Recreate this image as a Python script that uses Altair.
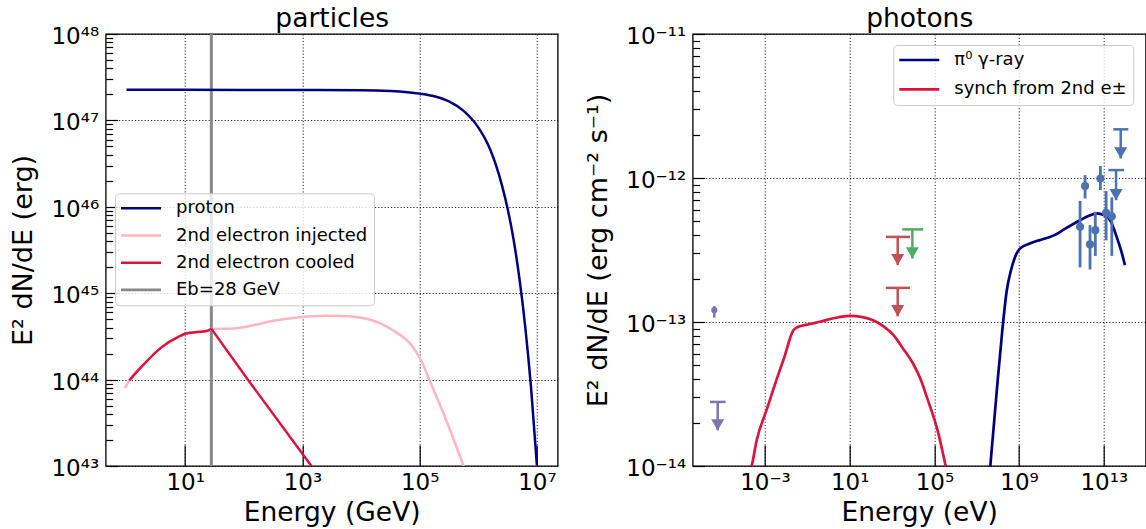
import altair as alt
import pandas as pd

FONT = "DejaVu Sans"

# ---------------- particles panel (log10 values) ----------------
proton_logE = [0.0, 1.0, 2.0, 3.0, 4.0, 4.5, 5.0, 5.25, 5.5, 5.75, 6.0, 6.2, 6.4, 6.5, 6.6, 6.7, 6.8, 6.9, 7.0]
proton_logF = [47.354, 47.354, 47.353, 47.352, 47.35, 47.34, 47.31, 47.28, 47.22, 47.11, 46.92, 46.67,
               46.26, 45.98, 45.63, 45.18, 44.62, 43.91, 43.01]

inj_logE = [-0.026, 0.048, 0.285, 0.59, 0.9, 1.0, 1.2, 1.385, 1.446, 1.8, 2.1, 2.5, 2.8, 3.1, 3.4, 3.7,
            4.0, 4.3, 4.56, 4.87, 5.02, 5.17, 5.47, 5.75, 5.8]
inj_logF = [43.90, 43.99, 44.17, 44.37, 44.50, 44.53, 44.55, 44.565, 44.585, 44.59, 44.62, 44.68, 44.71,
            44.73, 44.74, 44.735, 44.715, 44.66, 44.565, 44.39, 44.23, 43.99, 43.50, 43.00, 42.91]

# cooled spectrum: rising part up to the break, then the steep cooled part
cool_rise_logE = [0.048, 0.285, 0.59, 0.9, 1.0, 1.2, 1.385, 1.446]
cool_rise_logF = [43.99, 44.17, 44.37, 44.50, 44.53, 44.55, 44.565, 44.59]
cool_fall_logE = [1.446, 2.08, 3.154, 3.2]
cool_fall_logF = [44.59, 43.99, 43.00, 42.957]

Eb_GeV = [28]

left_series = ["proton", "2nd electron injected", "2nd electron cooled", "Eb=28 GeV"]
left_colors = ["#000080", "#ffb6c1", "#dc143c", "#888888"]

left_xticks = [1e1, 1e3, 1e5, 1e7]
left_xlabels = ["10¹", "10³", "10⁵", "10⁷"]
left_yticks = [1e43, 1e44, 1e45, 1e46, 1e47, 1e48]
left_ylabels = ["10⁴³", "10⁴⁴", "10⁴⁵", "10⁴⁶", "10⁴⁷", "10⁴⁸"]
left_yminor = [m * 10.0 ** e for e in range(43, 48) for m in range(2, 10)]

# ---------------- photons panel ----------------
pi0_logE = [7.6, 7.644, 7.8, 7.99, 8.2, 8.42, 8.6, 8.81, 9.05, 9.5, 10.0, 10.46, 10.7, 11.2, 11.88,
            12.3, 12.67, 13.0, 13.3, 13.61, 13.85, 14.0]
pi0_logF = [-14.09, -14.0, -13.73, -13.404, -13.07, -12.78, -12.65, -12.548, -12.489, -12.455, -12.43,
            -12.409, -12.395, -12.35, -12.293, -12.262, -12.246, -12.258, -12.293, -12.409, -12.52, -12.605]

syn_logE = [-3.7, -3.63, -3.39, -2.9, -2.5, -2.1, -1.66, -1.45, -1.0, -0.4, 0.3, 1.0, 1.6, 2.1, 2.6,
            3.06, 3.5, 4.0, 4.354, 4.64, 5.19, 5.535, 5.6]
syn_logF = [-14.04, -14.0, -13.82, -13.6, -13.42, -13.25, -13.057, -13.035, -13.018, -12.998, -12.972,
            -12.958, -12.966, -12.988, -13.03, -13.09, -13.18, -13.29, -13.40, -13.52, -13.775, -14.0, -14.04]

right_series = ["π⁰ γ-ray", "synch from 2nd e±"]
right_colors = ["#000080", "#dc143c"]

# measured points (TeV)
tev_logE = [11.88, 12.117, 12.35, 12.60, 12.84, 13.11, 13.38]
tev_logF = [-12.339, -12.056, -12.461, -12.362, -12.003, -12.242, -12.265]
tev_lo = [-12.621, -12.142, -12.635, -12.541, -12.084, -12.432, -12.541]
tev_hi = [-12.159, -11.980, -12.327, -12.235, -11.917, -12.091, -12.135]

# radio point
radio_logE = [-5.395]
radio_logF = [-12.918]
radio_lo = [-12.969]
radio_hi = [-12.890]

# upper limits
ul_src = ["radio", "X-ray 1", "X-ray 1", "X-ray 2", "TeV", "TeV"]
ul_logE = [-5.234, 3.267, 3.267, 3.96, 13.58, 13.80]
ul_logElo = [-5.60, 2.71, 2.71, 3.48, 13.22, 13.45]
ul_logEhi = [-4.86, 3.85, 3.85, 4.47, 13.96, 14.16]
ul_logFcap = [-13.555, -12.409, -12.763, -12.357, -11.945, -11.662]
ul_logFtip = [-13.752, -12.605, -12.960, -12.559, -12.154, -11.864]

src_names = ["radio", "X-ray 1", "X-ray 2", "TeV"]
src_colors = ["#8172B2", "#C44E52", "#55A868", "#4C72B0"]

right_xticks = [1e-3, 1e1, 1e5, 1e9, 1e13]
right_xlabels = ["10⁻³", "10¹", "10⁵", "10⁹", "10¹³"]
right_yticks = [1e-14, 1e-13, 1e-12, 1e-11]
right_ylabels = ["10⁻¹⁴", "10⁻¹³", "10⁻¹²", "10⁻¹¹"]
right_yminor = [m * 10.0 ** e for e in range(-14, -11) for m in range(2, 10)]

# ---------------- helpers ----------------
W_L, W_R, H = 452, 453, 432
LEFT0, TOP0, CANVAS_W, CANVAS_H = 105.7, 34, 1146, 529


def p10(v):
    return [10.0 ** x for x in v]


def line_df(logE, logF, name):
    return pd.DataFrame({"E": p10(logE), "F": p10(logF), "series": name})


def label_expr(labels, first, step):
    arr = ",".join("'" + s + "'" for s in labels)
    return f"[{arr}][round((log(datum.value)/LN10 - ({first}))/{step})]"


def main_x(values, labels, first, step, title, width):
    return alt.Axis(values=values, labelExpr=label_expr(labels, first, step), title=title,
                    grid=True, gridColor="black", gridDash=[1.2, 2], gridWidth=0.9, gridOpacity=0.95,
                    ticks=True, tickSize=0, domain=False, labelFlush=False, labelOverlap=False,
                    labelFont=FONT, labelFontSize=23, labelColor="black", labelPadding=5,
                    titleFont=FONT, titleFontSize=26.5, titleFontWeight="normal", titleColor="black",
                    titleBaseline="alphabetic", titleAlign="center", titleX=width / 2, titleY=54.3)


def main_y(values, labels, first, step, title, tx):
    return alt.Axis(values=values, labelExpr=label_expr(labels, first, step), title=title,
                    grid=True, gridColor="black", gridDash=[1.2, 2], gridWidth=0.9, gridOpacity=0.95,
                    ticks=True, tickSize=0, domain=False, labelFlush=False, labelOverlap=False,
                    labelFont=FONT, labelFontSize=23, labelColor="black", labelPadding=7,
                    labelOffset=2.5,
                    titleFont=FONT, titleFontSize=27, titleFontWeight="normal", titleColor="black",
                    titleAngle=270, titleBaseline="alphabetic", titleAlign="center",
                    titleX=tx, titleY=H / 2)


def tick_axis(values, size, orient):
    return alt.Axis(values=values, orient=orient, offset=-size, ticks=True, tickSize=size,
                    tickColor="black", tickWidth=1.2, labels=False, domain=False, grid=False,
                    title=None)


def top_title_axis(text, width):
    # panel title drawn as the title of a bare top axis, placed relative to the plot area
    return alt.Axis(orient="top", ticks=False, labels=False, domain=False, grid=False, title=text,
                    titleFont=FONT, titleFontSize=26.5, titleFontWeight="normal", titleColor="black",
                    titleBaseline="alphabetic", titleAlign="center", titleAngle=0,
                    titleX=width / 2, titleY=-7.3)


def legend(x, y, row_pad):
    return alt.Legend(title=None, orient="none", legendX=x, legendY=y, symbolType="M-4,0H4",
                      symbolSize=100, symbolStrokeWidth=2.6, symbolOffset=11, labelOffset=26,
                      labelFont=FONT, labelFontSize=18, labelColor="black", labelLimit=500,
                      rowPadding=row_pad, padding=6, fillColor="rgba(255,255,255,0.8)",
                      strokeColor="#cccccc", cornerRadius=4)


# ---------------- left panel ----------------
xs_L = alt.Scale(type="log", domain=[10 ** -0.355, 10 ** 7.355], nice=False)
ys_L = alt.Scale(type="log", domain=[1e43, 1e48], nice=False)
col_L = alt.Scale(domain=left_series, range=left_colors)
leg_L = legend(9.3, 159.3, 9.2)

df_p = line_df(proton_logE, proton_logF, "proton")
df_inj = line_df(inj_logE, inj_logF, "2nd electron injected")
df_rise = line_df(cool_rise_logE, cool_rise_logF, "2nd electron cooled")
df_fall = line_df(cool_fall_logE, cool_fall_logF, "2nd electron cooled")
df_eb = pd.DataFrame({"E": Eb_GeV, "series": ["Eb=28 GeV"]})


def plain_line(df, interp):
    return alt.Chart(df).mark_line(strokeWidth=2.5, clip=True, interpolate=interp).encode(
        x=alt.X("E:Q", scale=xs_L, axis=None), y=alt.Y("F:Q", scale=ys_L, axis=None),
        color=alt.Color("series:N", scale=col_L, legend=leg_L))


eb = alt.Chart(df_eb).mark_rule(strokeWidth=3, clip=True).encode(
    x=alt.X("E:Q", scale=xs_L, axis=None),
    color=alt.Color("series:N", scale=col_L, legend=leg_L))
proton = alt.Chart(df_p).mark_line(strokeWidth=2.5, clip=True, interpolate="monotone").encode(
    x=alt.X("E:Q", scale=xs_L, axis=main_x(left_xticks, left_xlabels, 1, 2, "Energy (GeV)", W_L)),
    y=alt.Y("F:Q", scale=ys_L, axis=main_y(left_yticks, left_ylabels, 43, 1, "E² dN/dE (erg)", -74.7)),
    color=alt.Color("series:N", scale=col_L, legend=leg_L))
inj = plain_line(df_inj, "monotone")
rise = plain_line(df_rise, "monotone")
fall = plain_line(df_fall, "linear")
tkA_L = alt.Chart(df_p).mark_point(opacity=0).encode(
    x=alt.X("E:Q", scale=xs_L, axis=tick_axis(left_xticks, 21, "bottom")),
    y=alt.Y("F:Q", scale=ys_L, axis=tick_axis(left_yticks, 12, "left")))
tkB_L = alt.Chart(df_p).mark_point(opacity=0).encode(
    x=alt.X("E:Q", scale=xs_L, axis=top_title_axis("particles", W_L)),
    y=alt.Y("F:Q", scale=ys_L, axis=tick_axis(left_yminor, 7, "left")))

left = alt.layer(eb, proton, inj, rise, fall, tkA_L, tkB_L).resolve_axis(
    x="independent", y="independent").properties(width=W_L, height=H)

# ---------------- right panel ----------------
xs_R = alt.Scale(type="log", domain=[10 ** -6.415, 10 ** 14.98], nice=False)
ys_R = alt.Scale(type="log", domain=[1e-14, 1e-11], nice=False)
col_R = alt.Scale(domain=right_series, range=right_colors)
leg_R = legend(200.6, 11, 11.4)
src_scale = alt.Scale(domain=src_names, range=src_colors)

df_pi = line_df(pi0_logE, pi0_logF, right_series[0])
df_syn = line_df(syn_logE, syn_logF, right_series[1])
df_tev = pd.DataFrame({"E": p10(tev_logE), "F": p10(tev_logF), "lo": p10(tev_lo), "hi": p10(tev_hi),
                       "src": "TeV"})
df_radio = pd.DataFrame({"E": p10(radio_logE), "F": p10(radio_logF), "lo": p10(radio_lo),
                         "hi": p10(radio_hi), "src": "radio"})
df_ul = pd.DataFrame({"E": p10(ul_logE), "Elo": p10(ul_logElo), "Ehi": p10(ul_logEhi),
                      "Fcap": p10(ul_logFcap), "Ftip": p10(ul_logFtip), "src": ul_src})

X_R = lambda f: alt.X(f, scale=xs_R, axis=None)
Y_R = lambda f: alt.Y(f, scale=ys_R, axis=None)
ST = alt.Stroke("src:N", scale=src_scale, legend=None)
FI = alt.Fill("src:N", scale=src_scale, legend=None)

pi = alt.Chart(df_pi).mark_line(strokeWidth=2.7, clip=True, interpolate="monotone").encode(
    x=alt.X("E:Q", scale=xs_R, axis=main_x(right_xticks, right_xlabels, -3, 4, "Energy (eV)", W_R)),
    y=alt.Y("F:Q", scale=ys_R,
            axis=main_y(right_yticks, right_ylabels, -14, 1, "E² dN/dE (erg cm⁻² s⁻¹)", -86.2)),
    color=alt.Color("series:N", scale=col_R, legend=leg_R))
syn = alt.Chart(df_syn).mark_line(strokeWidth=2.7, clip=True, interpolate="monotone").encode(
    x=X_R("E:Q"), y=Y_R("F:Q"), color=alt.Color("series:N", scale=col_R, legend=leg_R))

err_tev = alt.Chart(df_tev).mark_rule(strokeWidth=2.8).encode(
    x=X_R("E:Q"), y=Y_R("lo:Q"), y2="hi:Q", stroke=ST)
dot_tev = alt.Chart(df_tev).mark_point(filled=True, shape="circle", size=65, opacity=1,
                                        strokeWidth=0).encode(
    x=X_R("E:Q"), y=Y_R("F:Q"), fill=FI)
err_radio = alt.Chart(df_radio).mark_rule(strokeWidth=2.5).encode(
    x=X_R("E:Q"), y=Y_R("lo:Q"), y2="hi:Q", stroke=ST)
dot_radio = alt.Chart(df_radio).mark_point(filled=True, shape="circle", size=38, opacity=1,
                                            strokeWidth=0).encode(
    x=X_R("E:Q"), y=Y_R("F:Q"), fill=FI)

caps = alt.Chart(df_ul).mark_rule(strokeWidth=2.5).encode(
    x=X_R("Elo:Q"), x2="Ehi:Q", y=Y_R("Fcap:Q"), stroke=ST)
stems = alt.Chart(df_ul).mark_rule(strokeWidth=2.5).encode(
    x=X_R("E:Q"), y=Y_R("Fcap:Q"), y2="Ftip:Q", stroke=ST)
heads = alt.Chart(df_ul).mark_point(shape="triangle-down", filled=True, size=170, yOffset=-5.5,
                                     opacity=1, strokeWidth=0).encode(
    x=X_R("E:Q"), y=Y_R("Ftip:Q"), fill=FI)

tkA_R = alt.Chart(df_pi).mark_point(opacity=0).encode(
    x=alt.X("E:Q", scale=xs_R, axis=tick_axis(right_xticks, 21, "bottom")),
    y=alt.Y("F:Q", scale=ys_R, axis=tick_axis(right_yticks, 12, "left")))
tkB_R = alt.Chart(df_pi).mark_point(opacity=0).encode(
    x=alt.X("E:Q", scale=xs_R, axis=top_title_axis("photons", W_R)),
    y=alt.Y("F:Q", scale=ys_R, axis=tick_axis(right_yminor, 7, "left")))

right = alt.layer(syn, pi, err_tev, dot_tev, err_radio, dot_radio, caps, stems, heads,
                  tkA_R, tkB_R).resolve_axis(x="independent", y="independent").properties(
    width=W_R, height=H)

chart = alt.hconcat(left, right, spacing=135, bounds="flush").resolve_scale(
    x="independent", y="independent", color="independent", stroke="independent",
    fill="independent").properties(
    autosize=alt.AutoSizeParams(type="none"),
    padding={"left": LEFT0, "top": TOP0, "right": CANVAS_W - LEFT0, "bottom": CANVAS_H - TOP0},
    background="white"
).configure(font=FONT).configure_view(stroke="black", strokeWidth=1.3)

chart.save("out.html", embed_options={"renderer": "svg", "actions": False})
